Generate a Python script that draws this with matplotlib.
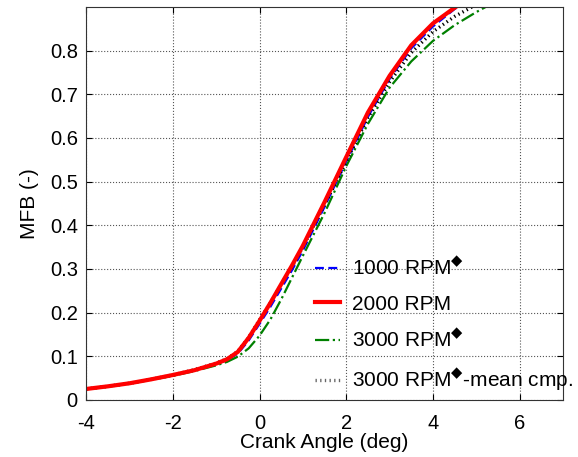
import matplotlib
matplotlib.use('Agg')
import matplotlib.pyplot as plt

plt.rcParams['font.family'] = ['Liberation Sans', 'DejaVu Sans']
plt.rcParams['mathtext.fontset'] = 'dejavusans'
plt.rcParams['axes.unicode_minus'] = False

# crank angle (deg) and mass fraction burned
ca = [-4, -3.5, -3, -2.5, -2, -1.5, -1, -0.75, -0.5, -0.25, 0, 0.25, 0.5, 0.75,
      1, 1.5, 2, 2.5, 3, 3.5, 4, 4.5, 5, 5.5]
mfb_1000 = [0.025, 0.031, 0.038, 0.047, 0.057, 0.068, 0.082, 0.091, 0.106, 0.136,
            0.174, 0.213, 0.255, 0.297, 0.342, 0.442, 0.546, 0.648, 0.735, 0.805,
            0.855, 0.895, 0.925, 0.95]
mfb_2000 = [0.025, 0.031, 0.038, 0.047, 0.057, 0.068, 0.083, 0.093, 0.110, 0.142,
            0.181, 0.222, 0.265, 0.308, 0.353, 0.453, 0.556, 0.658, 0.742, 0.812,
            0.862, 0.898, 0.93, 0.955]
mfb_3000 = [0.024, 0.030, 0.037, 0.046, 0.055, 0.066, 0.079, 0.087, 0.099, 0.118,
            0.147, 0.184, 0.230, 0.280, 0.330, 0.428, 0.535, 0.632, 0.715, 0.775,
            0.822, 0.858, 0.888, 0.915]
mfb_3000m = [0.025, 0.031, 0.038, 0.047, 0.057, 0.069, 0.084, 0.094, 0.111, 0.143,
             0.183, 0.222, 0.264, 0.305, 0.350, 0.447, 0.546, 0.646, 0.728, 0.795,
             0.843, 0.878, 0.905, 0.93]

labels = ['1000 RPM$^{\u25c6}$', '2000 RPM', '3000 RPM$^{\u25c6}$',
          '3000 RPM$^{\u25c6}$-mean cmp.']

fig = plt.figure(figsize=(5.78, 4.57), dpi=100)
ax = fig.add_axes([0.149, 0.125, 0.825, 0.86])

l1, = ax.plot(ca, mfb_1000, color='blue', ls='--', lw=1.6, dashes=(4, 2))
l3, = ax.plot(ca, mfb_3000, color='green', ls='-.', lw=1.6)
l4, = ax.plot(ca, mfb_3000m, color='black', ls=':', lw=2.4, dashes=(0.4, 1.0))
l2, = ax.plot(ca, mfb_2000, color='red', ls='-', lw=3)

ax.set_xlim(-4, 7)
ax.set_ylim(0, 0.9)
ax.set_xticks([-4, -2, 0, 2, 4, 6])
ax.set_yticks([0, 0.1, 0.2, 0.3, 0.4, 0.5, 0.6, 0.7, 0.8])
ax.set_yticklabels(['0', '0.1', '0.2', '0.3', '0.4', '0.5', '0.6', '0.7', '0.8'])
ax.tick_params(direction='in', top=True, right=True, labelsize=14.5, length=4)
ax.tick_params(axis='x', pad=10)
ax.tick_params(axis='y', pad=6)
ax.grid(True, ls=':', color='#555555', lw=0.8)
for s in ax.spines.values():
    s.set_color('#333333')
    s.set_linewidth(0.8)

ax.set_xlabel('Crank Angle (deg)', fontsize=15, labelpad=0)
ax.set_ylabel('MFB (-)', fontsize=15, labelpad=8)

leg = ax.legend([l1, l2, l3, l4], labels, loc='lower left',
                bbox_to_anchor=(0.44, -0.03), frameon=False, fontsize=15,
                handlelength=1.2, handletextpad=0.6, labelspacing=0.74)
l4_leg = leg.get_lines()[3]
l4_leg.set_color('#666666')

fig.savefig('out.png', dpi=100)
